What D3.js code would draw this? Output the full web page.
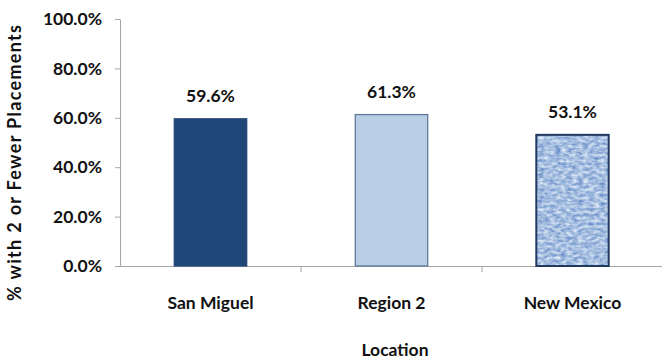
<!DOCTYPE html>
<html><head><meta charset="utf-8">
<script src="https://cdn.jsdelivr.net/npm/d3@7"></script>
<style>body{margin:0;background:#fff}svg{display:block}text{font-family:Lato,"Open Sans",sans-serif;font-weight:bold;fill:#111}</style>
</head><body>
<script>
const categories = ["San Miguel", "Region 2", "New Mexico"];
const values = [0.596, 0.613, 0.531];
const yTicks = [0, 0.2, 0.4, 0.6, 0.8, 1.0];
const yTitle = "% with 2 or Fewer Placements";
const xTitle = "Location";

const W = 662, H = 360;
const svg = d3.select("body").append("svg").attr("width", W).attr("height", H);
const defs = svg.append("defs");
const f = defs.append("filter").attr("id","tex").attr("x",0).attr("y",0).attr("width",1).attr("height",1)
  .attr("color-interpolation-filters","sRGB");
f.append("feTurbulence").attr("type","fractalNoise").attr("baseFrequency","0.18 0.35").attr("numOctaves",2).attr("seed",5).attr("result","n");
f.append("feColorMatrix").attr("in","n").attr("type","matrix")
 .attr("values","0.7 0 0 0 0.3  0.55 0 0 0 0.47  0.28 0 0 0 0.74  0 0 0 0 1").attr("result","n2");
f.append("feComposite").attr("in","n2").attr("in2","SourceGraphic").attr("operator","in");

const x0 = 120, x1 = 663, yTop = 19, yBot = 266;
const x = d3.scaleBand().domain(categories).range([x0, x1]).paddingInner(0.6).paddingOuter(0.3);
const y = d3.scaleLinear().domain([0, 1]).range([yBot, yTop]);
const FS = "17.5px";

// y axis
const ya = svg.append("g").attr("transform", `translate(${x0},0)`)
  .call(d3.axisLeft(y).tickValues(yTicks).tickFormat(d3.format(".1%")).tickSize(5).tickSizeOuter(0));
ya.select(".domain").attr("stroke", "#a6a6a6");
ya.selectAll(".tick line").attr("stroke", "#a6a6a6");
ya.selectAll(".tick text").attr("x", -18).style("font-size", FS).attr("fill","#111");

// x axis
const xa = svg.append("g").attr("transform", `translate(0,${yBot})`)
  .call(d3.axisBottom(x).tickSize(0).tickSizeOuter(0));
xa.select(".domain").attr("stroke", "#a6a6a6");
xa.selectAll(".tick text").attr("y", 31).style("font-size", FS).attr("fill","#111");
// category boundary ticks
const step = x.step();
svg.append("g").selectAll("line").data(categories.slice(1)).join("line")
  .attr("x1", d => x(d) - x.paddingOuter()*step).attr("x2", d => x(d) - x.paddingOuter()*step)
  .attr("y1", yBot).attr("y2", yBot + 6).attr("stroke", "#a6a6a6");

const fills = ["#1f4778", "#b9cde5", "#a5bde0"];
const strokes = ["#2a4a75", "#5e7899", "#20395f"];
const bars = svg.append("g").selectAll("g").data(categories).join("g");
bars.append("rect")
  .attr("x", d => x(d)).attr("width", x.bandwidth())
  .attr("y", (d,i) => y(values[i])).attr("height", (d,i) => yBot - y(values[i]))
  .attr("fill", (d,i) => fills[i])
  .attr("filter", (d,i) => i === 2 ? "url(#tex)" : null);
bars.append("rect")
  .attr("x", d => x(d)).attr("width", x.bandwidth())
  .attr("y", (d,i) => y(values[i])).attr("height", (d,i) => yBot - y(values[i]))
  .attr("fill", "none").attr("stroke", (d,i) => strokes[i]).attr("stroke-width", (d,i) => i===2?2:1.3);
bars.append("text")
  .attr("x", d => x(d) + x.bandwidth()/2)
  .attr("y", (d,i) => y(values[i]) - 17)
  .attr("text-anchor", "middle").style("font-size", FS)
  .text((d,i) => d3.format(".1%")(values[i]));

svg.append("text").attr("transform", `translate(21,${163}) rotate(-90)`)
  .attr("text-anchor","middle").style("font-size","18px")
  .attr("textLength", 276).attr("lengthAdjust","spacing").text(yTitle);
svg.append("text").attr("x", 395).attr("y", 356)
  .attr("text-anchor","middle").style("font-size", FS).text(xTitle);
</script>
</body></html>
